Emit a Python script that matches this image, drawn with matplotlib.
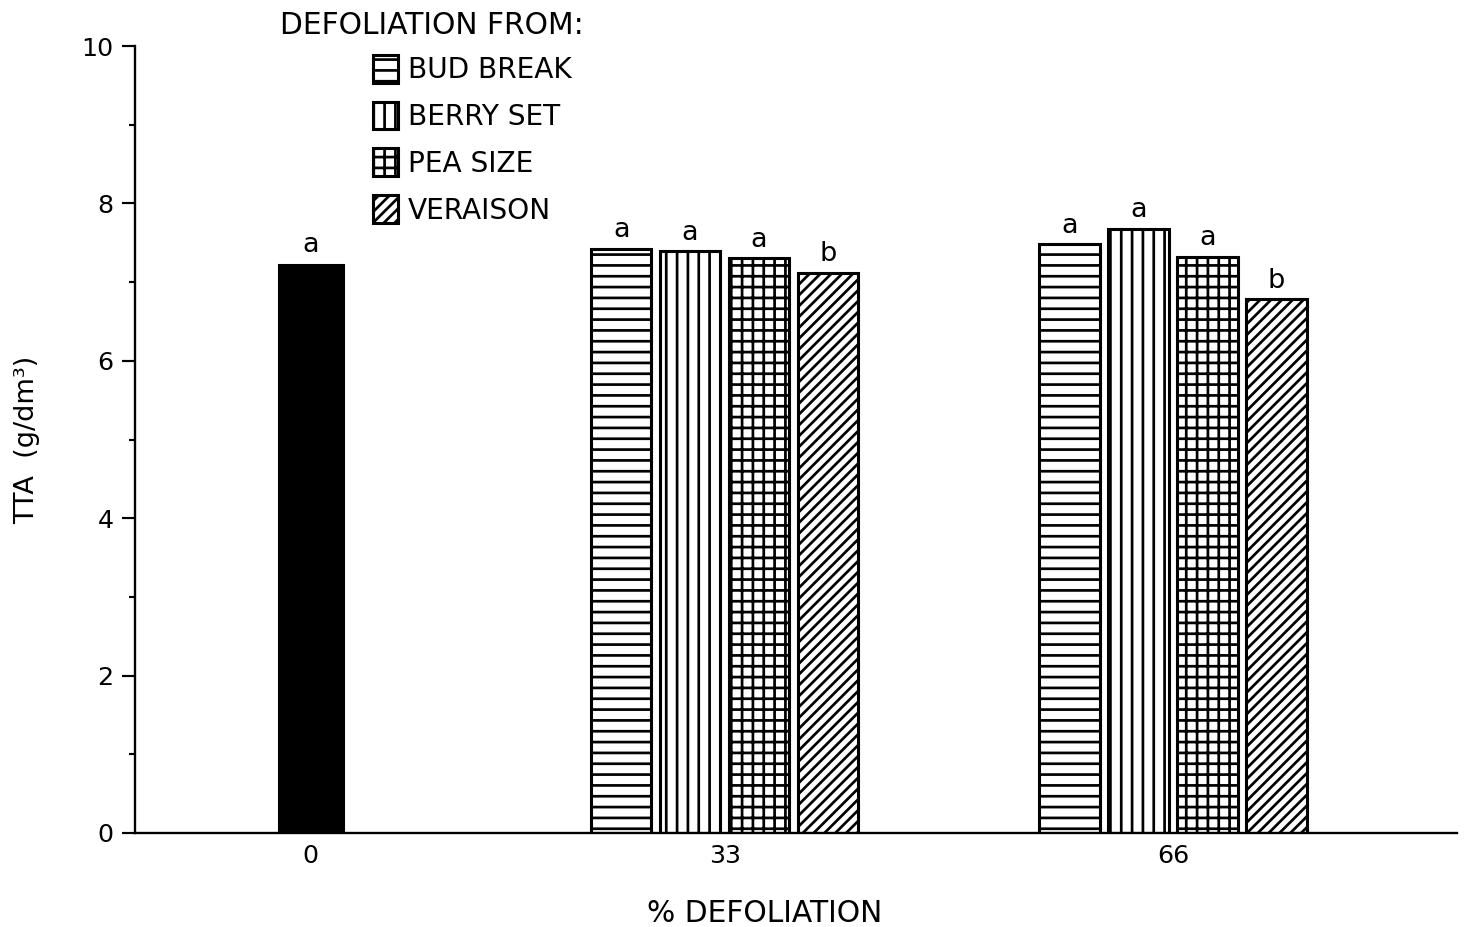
import matplotlib
matplotlib.use("Agg")
import matplotlib.pyplot as plt
from matplotlib.patches import Patch

# ---- data ----
categories = ['0', '33', '66']
series = ['BUD BREAK', 'BERRY SET', 'PEA SIZE', 'VERAISON']
control_value = 7.22
control_letter = 'a'
tta_33 = [7.42, 7.39, 7.30, 7.12]
tta_66 = [7.48, 7.68, 7.32, 6.78]
letters_33 = ['a', 'a', 'a', 'b']
letters_66 = ['a', 'a', 'a', 'b']

# ---- style ----
DPI = 130
plt.rcParams['font.family'] = ['DejaVu Sans']
plt.rcParams['hatch.linewidth'] = 1.5
plt.rcParams['hatch.color'] = 'black'

hatches = ['--', '||', '++', '////']
group_pos = [0.0, 0.96, 2.0]
pitch = 0.16
width = 0.14
edge_lw = 1.7

fig = plt.figure(figsize=(1464 / DPI, 927 / DPI), dpi=DPI)
ax = fig.add_axes([135 / 1464, 1 - 833 / 927, (1457 - 135) / 1464, (833 - 46) / 927])

# control bar
ax.bar(group_pos[0], control_value, width=0.15, color='black', edgecolor='black',
       linewidth=edge_lw)
ax.annotate(control_letter, (group_pos[0], control_value), xytext=(0, 7),
            textcoords='offset points', ha='center', va='baseline', fontsize=15)

# treatment bars
for gi, vals, lets in [(1, tta_33, letters_33), (2, tta_66, letters_66)]:
    for si, (v, l) in enumerate(zip(vals, lets)):
        x = group_pos[gi] + (si - 1.5) * pitch
        ax.bar(x, v, width=width, facecolor='white', edgecolor='black',
               hatch=hatches[si], linewidth=edge_lw)
        ax.annotate(l, (x, v), xytext=(0, 6.5), textcoords='offset points',
                    ha='center', va='baseline', fontsize=15)

ax.set_xlim(-0.408, 2.659)
ax.set_ylim(0, 10)

ax.set_xticks(group_pos)
ax.set_xticklabels(categories)
ax.set_yticks([0, 2, 4, 6, 8, 10])
ax.set_yticks([1, 3, 5, 7, 9], minor=True)
ax.tick_params(axis='y', which='major', length=7, width=1.2, labelsize=14, pad=5,
               direction='out')
ax.tick_params(axis='y', which='minor', length=3.5, width=1.2, direction='out')
ax.tick_params(axis='x', length=0, labelsize=14, pad=6)

for s in ['top', 'right']:
    ax.spines[s].set_visible(False)
for s in ['left', 'bottom']:
    ax.spines[s].set_linewidth(1.3)

ax.set_ylabel('TTA  (g/dm³)', fontsize=15)
ax.yaxis.set_label_coords(-0.072, 0.5)
ax.set_xlabel('% DEFOLIATION', fontsize=16.5)
ax.xaxis.set_label_coords(0.4766, -0.084)

# legend
handles = [Patch(facecolor='white', edgecolor='black', hatch=h, linewidth=edge_lw)
           for h in hatches]
leg = ax.legend(handles, series, loc='upper left',
                bbox_to_anchor=((373 - 135) / 1322, (833 - 55) / 787),
                frameon=False, fontsize=15.5, handlelength=0.9, handleheight=1.15,
                handletextpad=0.35, labelspacing=0.62, borderpad=0, borderaxespad=0)
fig.text(280 / 1464, 1 - 26 / 927, 'DEFOLIATION FROM:', fontsize=16.5, ha='left',
         va='center')

fig.savefig('out.png', dpi=DPI)
